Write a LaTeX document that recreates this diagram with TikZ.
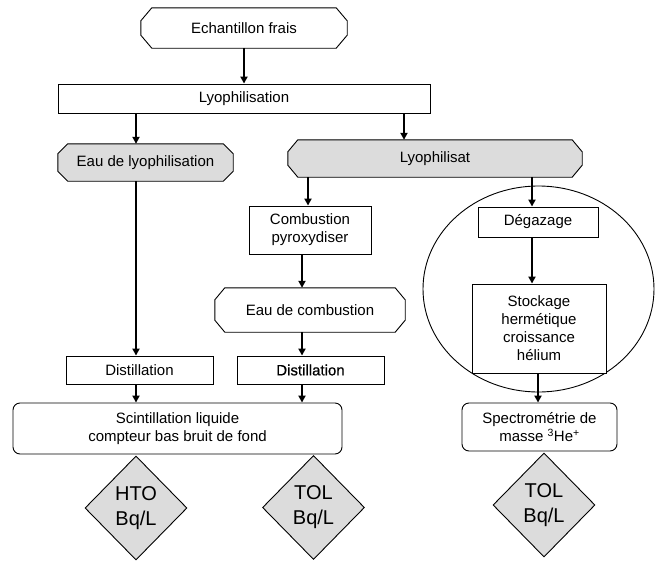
\documentclass[tikz,border=0pt]{standalone}
\usepackage{fontspec}
\setmainfont{Liberation Sans}
\newfontfamily\boldishfont[FakeBold=0.6]{Liberation Sans}
\usetikzlibrary{arrows.meta,shapes.geometric,backgrounds}
\definecolor{boxgray}{RGB}{220,220,220}
\begin{document}
\begin{tikzpicture}[x=1pt,y=-1pt,
  every node/.style={font=\fontsize{15}{18}\selectfont, align=center, inner sep=0pt},
  rectbox/.style={draw, line width=0.9pt, fill=white, rectangle},
  roundbox/.style={draw, line width=0.9pt, fill=white, rectangle, rounded corners=7pt},
  octnode/.style={rectangle},
  diam/.style={diamond, draw, line width=0.9pt, fill=boxgray, minimum width=102pt, minimum height=104pt, font=\fontsize{20}{25}\selectfont},
  arr/.style={line width=1.8pt, -{Triangle[length=7pt,width=7pt]}},
  octline/.style={draw, line width=0.9pt}
]
\useasboundingbox (0,0) rectangle (659,560);

% column coordinates for connectors
\coordinate (xl) at (136,0);
\coordinate (xr) at (404,0);
\coordinate (xm1) at (308,0);
\coordinate (xm2) at (302,0);
\coordinate (xs1) at (532,0);
\coordinate (xs2) at (538,0);

\node[octnode, minimum width=206pt, minimum height=40pt] (ech) at (244,28) {Echantillon frais};
\node[rectbox, minimum width=372pt, minimum height=29pt] (lyo) at (244,98.5) {Lyophilisation};
\node[octnode, minimum width=175pt, minimum height=37pt] (eaulyo) at (145.5,162.5) {Eau de lyophilisation};
\node[octnode, minimum width=294pt, minimum height=37pt] (lyosat) at (435,158.5) {Lyophilisat};
\node[rectbox, minimum width=122pt, minimum height=48pt] (comb) at (310,230) {Combustion\\pyroxydiser};
\node[octnode, minimum width=190pt, minimum height=44pt] (eaucomb) at (310,310) {Eau de combustion};
\node[rectbox, minimum width=147pt, minimum height=28pt] (dist1) at (139.5,370) {Distillation};
\node[rectbox, minimum width=147pt, minimum height=28pt] (dist2) at (310.5,370) {\boldishfont Distillation};
\node[ellipse, draw, line width=0.9pt, minimum width=231pt, minimum height=206pt] (grp) at (538.5,289) {};
\node[rectbox, minimum width=120pt, minimum height=30pt] (degaz) at (538,222) {Dégazage};
\node[rectbox, minimum width=134pt, minimum height=89pt] (stock) at (539,328.5) {Stockage\\hermétique\\croissance\\hélium};
\node[roundbox, minimum width=329pt, minimum height=51pt] (scint) at (177.5,428.5) {Scintillation liquide\\compteur bas bruit de fond};
\node[roundbox, minimum width=155pt, minimum height=48pt] (spec) at (539.5,427) {Spectrométrie de\\masse \textsuperscript{3}He\textsuperscript{+}};
\node[diam] (hto) at (136,508) {HTO\\Bq/L};
\node[diam] (tol1) at (313.5,507.5) {TOL\\Bq/L};
\node[diam] (tol2) at (544,505) {TOL\\Bq/L};

\begin{scope}[on background layer]
\foreach \n/\cx/\cy/\f in {ech/11/13/white, eaulyo/10/10/boxgray, lyosat/10/12/boxgray, eaucomb/10/12/white}{
  \draw[octline, fill=\f] ([xshift=\cx pt]\n.north west) -- ([xshift=-\cx pt]\n.north east)
    -- ([yshift=-\cy pt]\n.north east) -- ([yshift=\cy pt]\n.south east)
    -- ([xshift=-\cx pt]\n.south east) -- ([xshift=\cx pt]\n.south west)
    -- ([yshift=\cy pt]\n.south west) -- ([yshift=-\cy pt]\n.north west) -- cycle;
}
\end{scope}

\draw[arr] (ech.south) -- (lyo.north);
\draw[arr] (lyo.south -| xl) -- (eaulyo.north -| xl);
\draw[arr] (lyo.south -| xr) -- (lyosat.north -| xr);
\draw[arr] (eaulyo.south -| xl) -- (dist1.north -| xl);
\draw[arr] (dist1.south -| xl) -- (scint.north -| xl);
\draw[arr] (lyosat.south -| xm1) -- (comb.north -| xm1);
\draw[arr] (comb.south -| xm2) -- (eaucomb.north -| xm2);
\draw[arr] (eaucomb.south -| xm2) -- (dist2.north -| xm2);
\draw[arr] (dist2.south -| xm2) -- (scint.north -| xm2);
\draw[arr] (lyosat.south -| xs1) -- (degaz.north -| xs1);
\draw[arr] (degaz.south -| xs1) -- (stock.north -| xs1);
\draw[arr] (stock.south -| xs2) -- (spec.north -| xs2);
\end{tikzpicture}
\end{document}
